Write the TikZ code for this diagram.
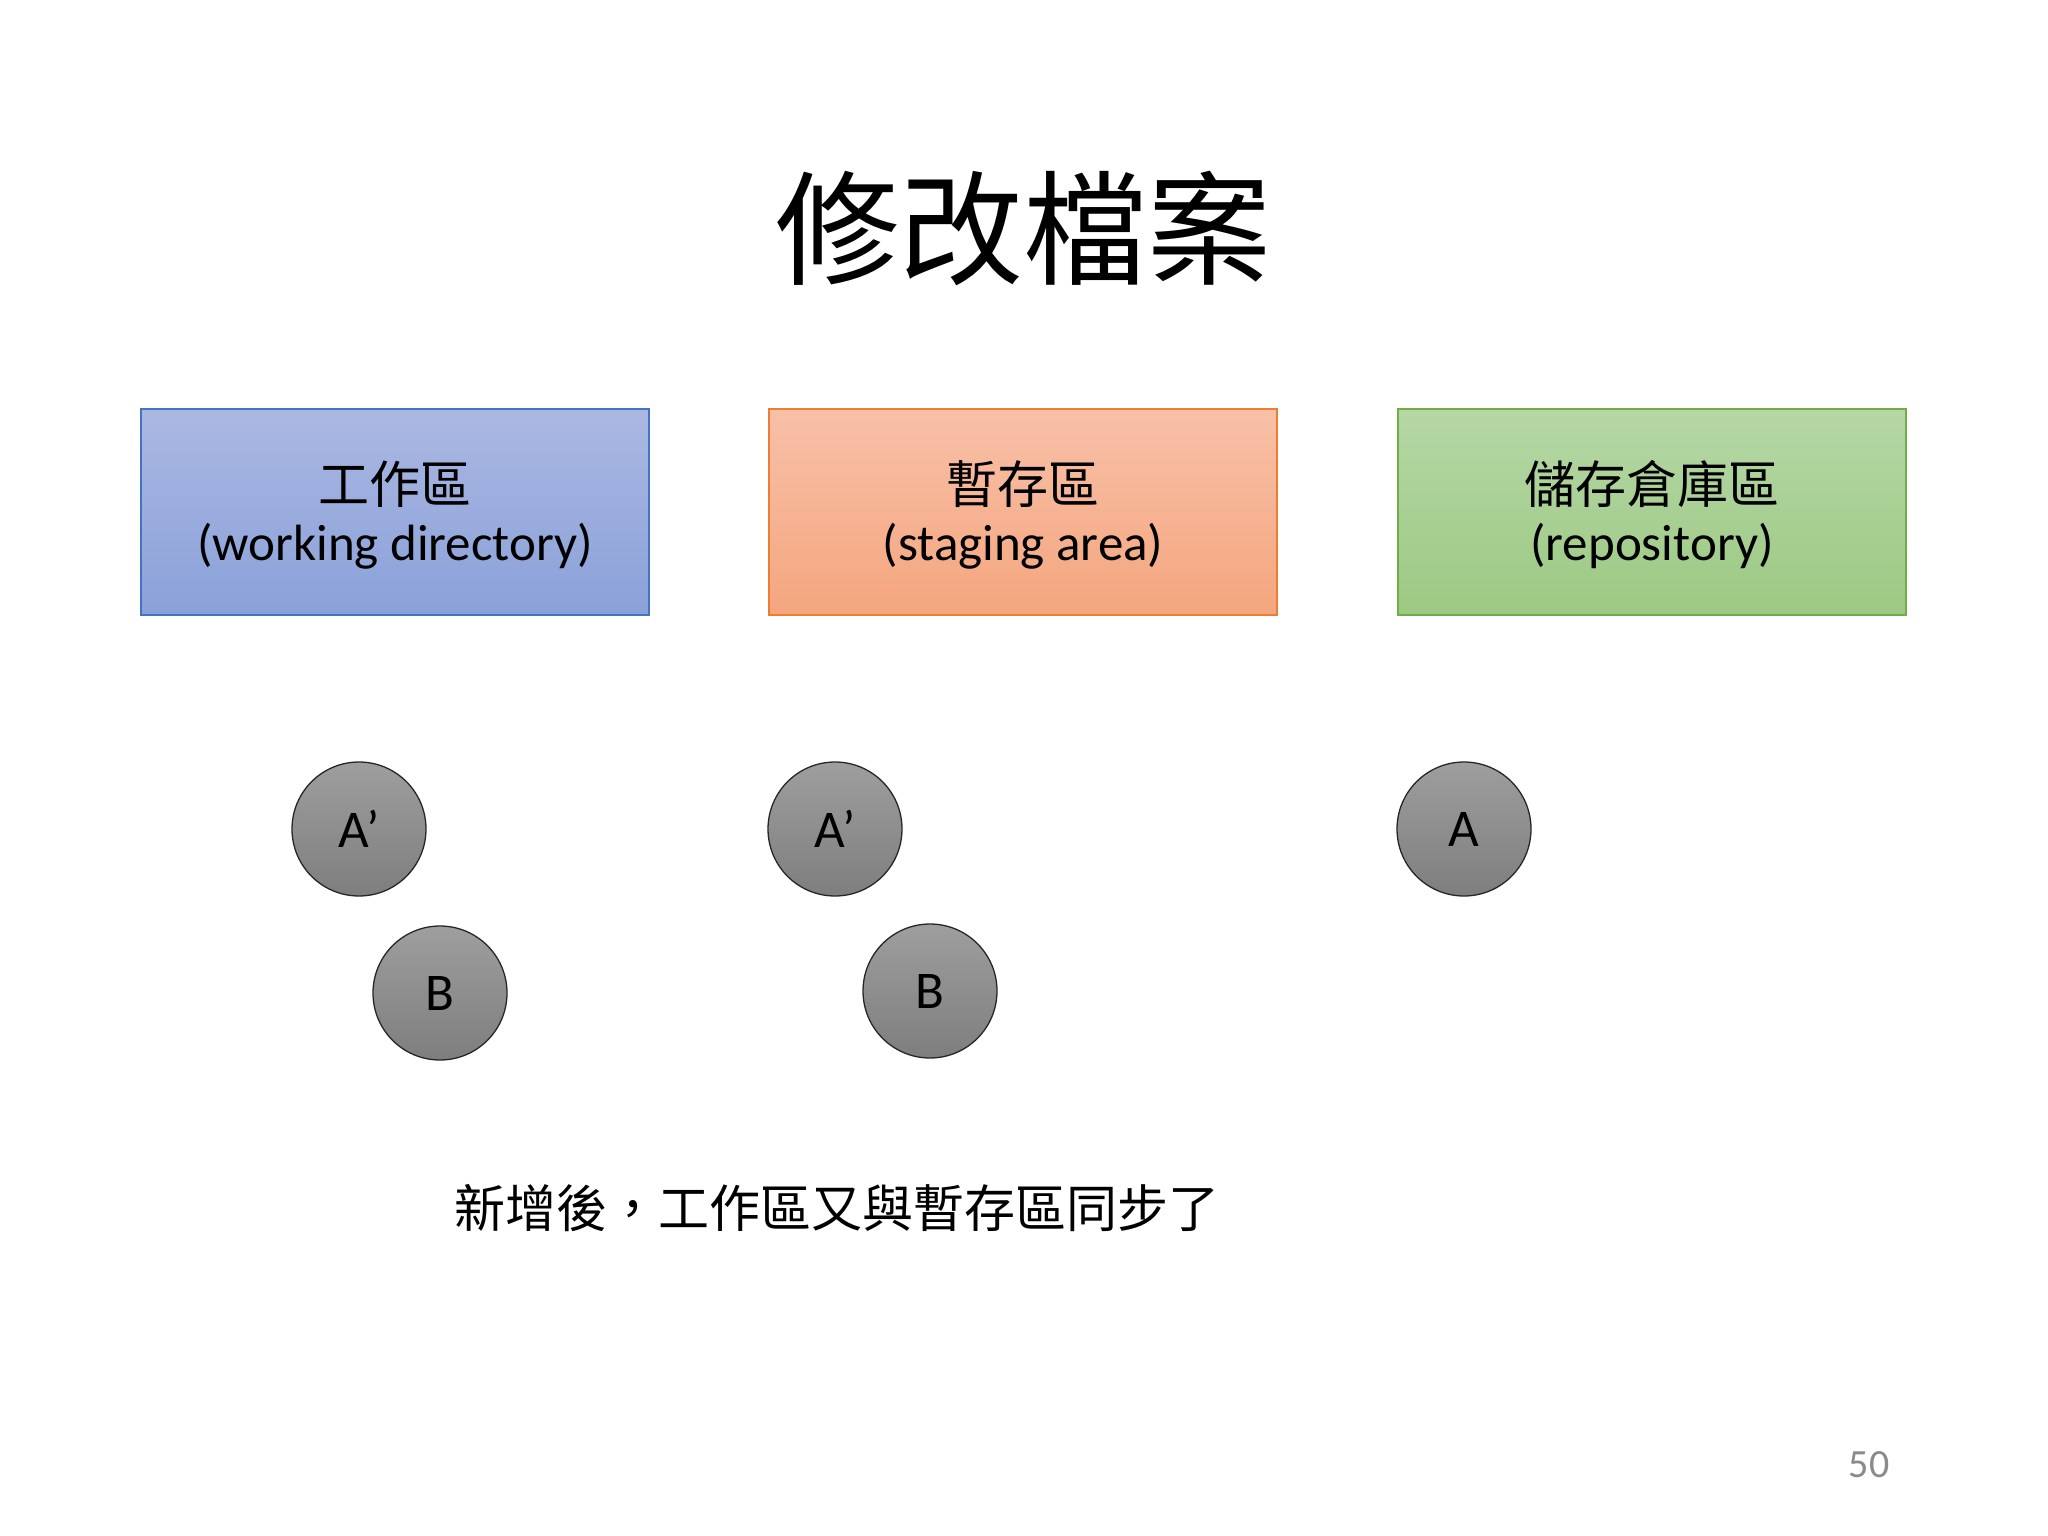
\documentclass[tikz,border=0pt]{standalone}
\usepackage{fontspec}
\setmainfont{Carlito}
\newfontfamily\cjk{Noto Sans CJK TC}
\definecolor{bluetop}{HTML}{ABB8E2}
\definecolor{bluebot}{HTML}{8AA1D9}
\definecolor{blueedge}{HTML}{4472C4}
\definecolor{orangetop}{HTML}{F8C0A8}
\definecolor{orangebot}{HTML}{F4A67E}
\definecolor{orangeedge}{HTML}{ED7D31}
\definecolor{greentop}{HTML}{B5D7A5}
\definecolor{greenbot}{HTML}{9CC983}
\definecolor{greenedge}{HTML}{70AD47}
\definecolor{graytop}{HTML}{9E9E9E}
\definecolor{graybot}{HTML}{7E7E7E}
\definecolor{pagenum}{HTML}{8A8A8A}
\tikzset{
  areabox/.style={rectangle, minimum width=508pt, minimum height=206pt, line width=1.3pt, inner sep=0pt},
  cjkline/.style={inner sep=0pt, text=black, font=\cjk\fontsize{51}{60}\selectfont},
  latinline/.style={inner sep=0pt, text=black, font=\fontsize{51}{60}\selectfont},
  filecircle/.style={circle, minimum size=134pt, inner sep=0pt, draw=black!85, line width=1.3pt,
    top color=graytop, bottom color=graybot, text=black, font=\fontsize{53}{60}\selectfont},
}
\begin{document}
\begin{tikzpicture}[x=1pt,y=-1pt]
\useasboundingbox[fill=white] (0,0) rectangle (2048,1536);
% title
\node (title) at (1023,229) {\cjk\fontsize{124}{140}\selectfont 修改檔案};
% boxes
\node[areabox, draw=blueedge, top color=bluetop, bottom color=bluebot] (wd) at (395,512) {};
\node[areabox, draw=orangeedge, top color=orangetop, bottom color=orangebot] (sa) at (1023,512) {};
\node[areabox, draw=greenedge, top color=greentop, bottom color=greenbot] (repo) at (1652,512) {};
\node[cjkline] (wdc) at (395,484) {工作區};
\node[latinline] (wdl) at (395,546) {(working directory)};
\node[cjkline] (sac) at (1023,484) {暫存區};
\node[latinline] (sal) at (1023,546) {(staging area)};
\node[cjkline] (repoc) at (1652,484) {儲存倉庫區};
\node[latinline] (repol) at (1652,546) {(repository)};
% files
\node[filecircle] (wdA) at (359,829) {A’};
\node[filecircle] (wdB) at (440,993) {B};
\node[filecircle] (saA) at (835,829) {A’};
\node[filecircle] (saB) at (930,991) {B};
\node[filecircle] (repoA) at (1464,829) {A};
% caption
\node (caption) at (837,1208) {\cjk\fontsize{51}{60}\selectfont 新增後，工作區又與暫存區同步了};
% page number
\node[text=pagenum, font=\fontsize{40}{48}\selectfont] (page) at (1869,1465) {50};
\end{tikzpicture}
\end{document}
